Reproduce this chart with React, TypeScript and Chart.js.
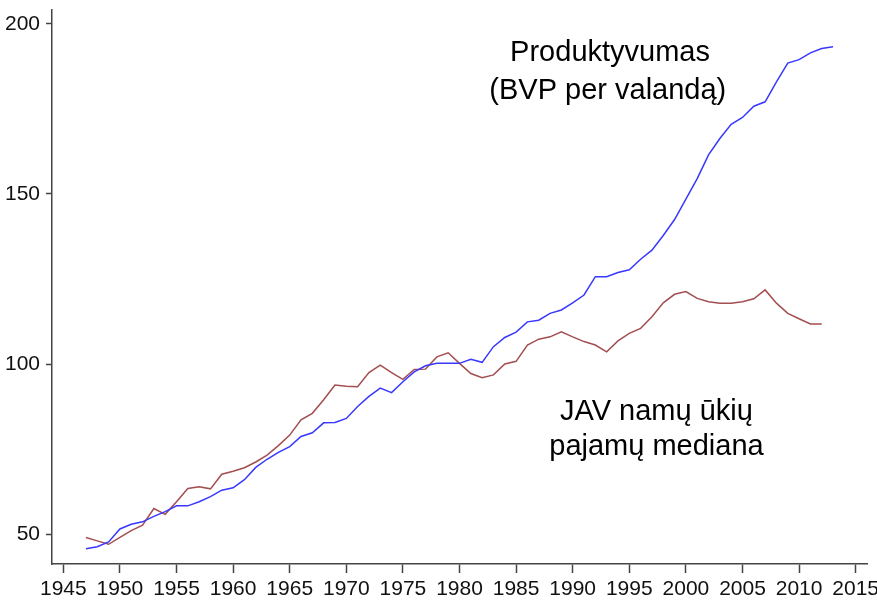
import React, { useEffect, useRef } from "react";
import { Chart, registerables } from "chart.js";

Chart.register(...registerables);

const productivityYears: number[] = [
  1947, 1948, 1949, 1950, 1951, 1952, 1953, 1954, 1955, 1956, 1957, 1958, 1959, 1960,
  1961, 1962, 1963, 1964, 1965, 1966, 1967, 1968, 1969, 1970, 1971, 1972, 1973, 1974,
  1975, 1976, 1977, 1978, 1979, 1980, 1981, 1982, 1983, 1984, 1985, 1986, 1987, 1988,
  1989, 1990, 1991, 1992, 1993, 1994, 1995, 1996, 1997, 1998, 1999, 2000, 2001, 2002,
  2003, 2004, 2005, 2006, 2007, 2008, 2009, 2010, 2011, 2012, 2013,
];
const productivity: number[] = [
  45.7, 46.3, 47.7, 51.5, 52.9, 53.6, 55.2, 56.6, 58.3, 58.3, 59.5, 61.0, 62.9, 63.6,
  66.0, 69.6, 72.0, 74.0, 75.7, 78.7, 79.8, 82.7, 82.8, 84.0, 87.5, 90.5, 92.9, 91.6,
  94.8, 97.7, 99.5, 100.2, 100.2, 100.2, 101.4, 100.5, 105.1, 107.8, 109.4, 112.4, 112.9, 114.9,
  115.9, 118.0, 120.3, 125.7, 125.7, 126.9, 127.7, 130.8, 133.5, 137.8, 142.5, 148.5, 154.5, 161.5,
  166.3, 170.5, 172.5, 175.8, 177.1, 183.0, 188.5, 189.5, 191.5, 192.8, 193.3,
];

const incomeYears: number[] = [
  1947, 1948, 1949, 1950, 1951, 1952, 1953, 1954, 1955, 1956, 1957, 1958, 1959, 1960,
  1961, 1962, 1963, 1964, 1965, 1966, 1967, 1968, 1969, 1970, 1971, 1972, 1973, 1974,
  1975, 1976, 1977, 1978, 1979, 1980, 1981, 1982, 1983, 1984, 1985, 1986, 1987, 1988,
  1989, 1990, 1991, 1992, 1993, 1994, 1995, 1996, 1997, 1998, 1999, 2000, 2001, 2002,
  2003, 2004, 2005, 2006, 2007, 2008, 2009, 2010, 2011, 2012,
];
const medianIncome: number[] = [
  49.0, 48.0, 47.0, 49.0, 51.0, 52.6, 57.5, 55.8, 59.5, 63.4, 63.9, 63.3, 67.6, 68.5,
  69.5, 71.2, 73.2, 76.0, 79.1, 83.6, 85.5, 89.5, 93.8, 93.5, 93.3, 97.5, 99.7, 97.5,
  95.5, 98.4, 98.5, 102.1, 103.3, 100.2, 97.2, 96.0, 96.8, 100.0, 100.8, 105.6, 107.3, 108.0,
  109.5, 108.0, 106.6, 105.6, 103.6, 106.8, 109.0, 110.5, 113.9, 118.0, 120.5, 121.3, 119.3, 118.3,
  117.9, 117.9, 118.3, 119.2, 121.8, 117.9, 114.9, 113.3, 111.8, 111.8,
];

const xTicks: number[] = [1945, 1950, 1955, 1960, 1965, 1970, 1975, 1980, 1985, 1990, 1995, 2000, 2005, 2010, 2015];
const yTicks: number[] = [50, 100, 150, 200];

// annotation texts, anchored in data space (year, value)
const labelTexts: string[] = ["Produktyvumas", "(BVP per valandą)", "JAV namų ūkių", "pajamų mediana"];
const labelYears: number[] = [1993.3, 1993.1, 1997.4, 1997.4];
const labelValues: number[] = [191.5, 180.3, 85.9, 75.6];

const TICK_FONT = '"Liberation Sans Narrow", "Arial Narrow", "Liberation Sans", Arial, sans-serif';

export default function App() {
  const ref = useRef<HTMLCanvasElement | null>(null);

  useEffect(() => {
    if (!ref.current) return;
    const textPlugin = {
      id: "textLabels",
      afterDatasetsDraw(chart: any) {
        const { ctx, scales } = chart;
        ctx.save();
        ctx.fillStyle = "#000";
        ctx.font = '29px "Liberation Sans", Arial, sans-serif';
        ctx.textAlign = "center";
        ctx.textBaseline = "middle";
        labelTexts.forEach((t, i) => {
          const x = scales.x.getPixelForValue(labelYears[i]);
          const y = scales.y.getPixelForValue(labelValues[i]);
          ctx.fillText(t, x, y);
        });
        ctx.restore();
      },
    };

    const chart = new Chart(ref.current, {
      type: "line",
      data: {
        datasets: [
          {
            label: "Produktyvumas",
            data: productivityYears.map((yr, i) => ({ x: yr, y: productivity[i] })),
            borderColor: "#3838ff",
            borderWidth: 1.5,
            pointRadius: 0,
            tension: 0,
            fill: false,
          },
          {
            label: "Mediana",
            data: incomeYears.map((yr, i) => ({ x: yr, y: medianIncome[i] })),
            borderColor: "#a34e50",
            borderWidth: 1.5,
            pointRadius: 0,
            tension: 0,
            fill: false,
          },
        ],
      },
      options: {
        responsive: false,
        animation: false,
        devicePixelRatio: 1,
        layout: { padding: { top: 10, right: 10, left: 0, bottom: 0 } },
        plugins: { legend: { display: false }, tooltip: { enabled: false } },
        scales: {
          x: {
            type: "linear",
            min: 1944,
            max: 2016,
            afterBuildTicks: (axis: any) => {
              axis.ticks = xTicks.map((v) => ({ value: v }));
            },
            afterFit: (axis: any) => {
              axis.height = 39;
              axis.paddingLeft = 0;
              axis.paddingRight = 0;
            },
            grid: {
              drawOnChartArea: false,
              drawTicks: true,
              tickLength: 9,
              tickColor: "#444",
              tickWidth: 1.5,
            },
            border: { display: true, color: "#444", width: 1.5 },
            ticks: {
              color: "#111",
              padding: 4,
              maxRotation: 0,
              autoSkip: false,
              font: { family: TICK_FONT, size: 21 },
              callback: (v: any) => String(v),
            },
          },
          y: {
            type: "linear",
            min: 41.2,
            max: 204.1,
            afterBuildTicks: (axis: any) => {
              axis.ticks = yTicks.map((v) => ({ value: v }));
            },
            afterFit: (axis: any) => {
              axis.width = 52;
              axis.paddingTop = 0;
              axis.paddingBottom = 0;
            },
            grid: {
              drawOnChartArea: false,
              drawTicks: true,
              tickLength: 6,
              tickColor: "#444",
              tickWidth: 1.5,
            },
            border: { display: true, color: "#444", width: 1.5 },
            ticks: {
              color: "#111",
              padding: 6,
              font: { family: TICK_FONT, size: 21 },
              callback: (v: any) => String(v),
            },
          },
        },
      },
      plugins: [textPlugin],
    });
    return () => chart.destroy();
  }, []);

  return (
    <div style={{ position: "absolute", left: 0, top: 0, width: 877, height: 603, background: "#fff" }}>
      <canvas ref={ref} width={877} height={603} style={{ display: "block", width: 877, height: 603 }} />
    </div>
  );
}
